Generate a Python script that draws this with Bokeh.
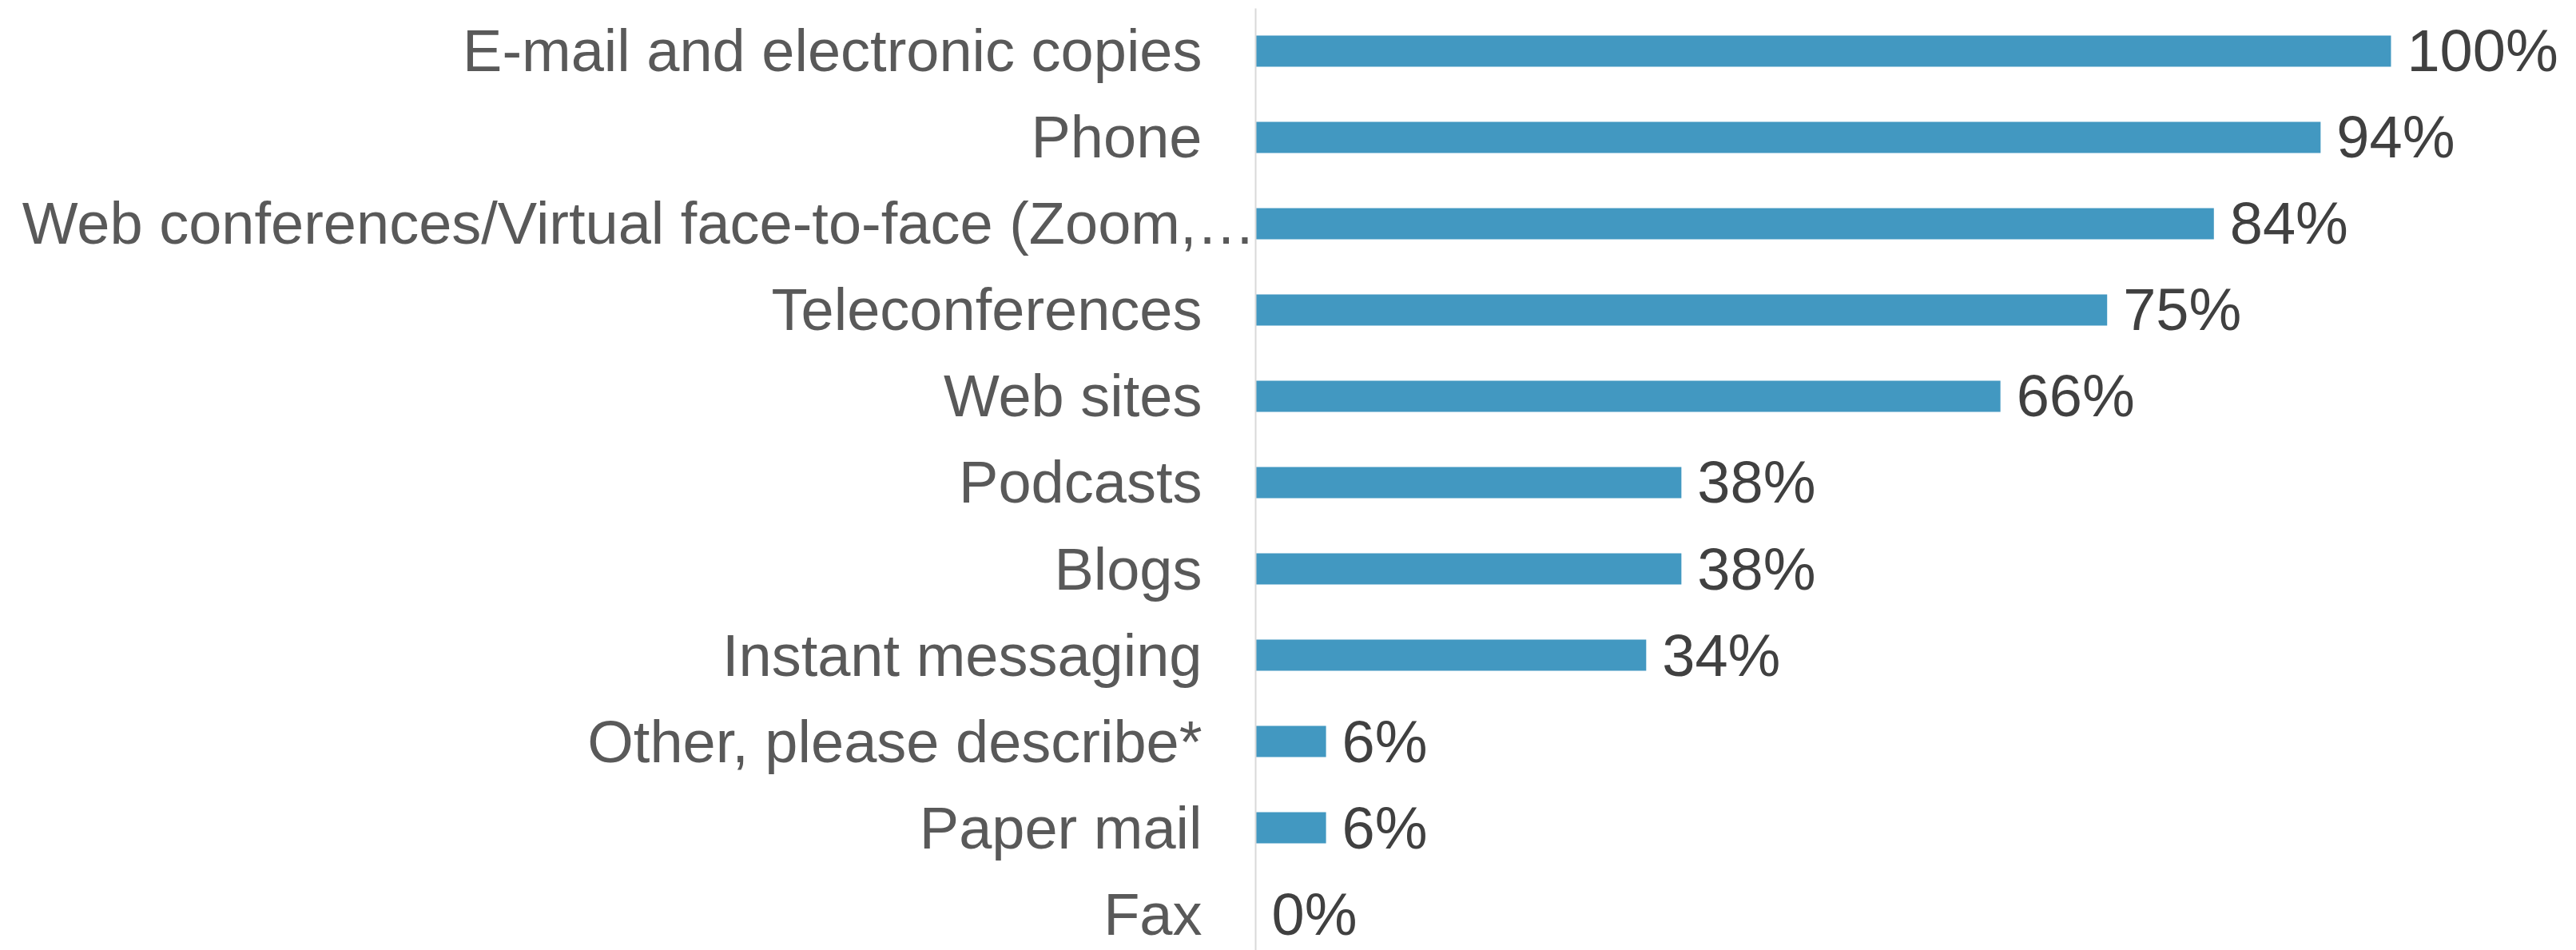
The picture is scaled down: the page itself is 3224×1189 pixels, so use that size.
from bokeh.plotting import figure
from bokeh.models import Range1d, ColumnDataSource, FixedTicker
from bokeh.core.properties import value
from bokeh.embed import file_html
from bokeh.resources import INLINE

categories = [
    "E-mail and electronic copies",
    "Phone",
    "Web conferences/Virtual face-to-face (Zoom,…",
    "Teleconferences",
    "Web sites",
    "Podcasts",
    "Blogs",
    "Instant messaging",
    "Other, please describe*",
    "Paper mail",
    "Fax",
]
values = [100, 93.8, 84.4, 75, 65.6, 37.5, 37.5, 34.4, 6.2, 6.2, 0]
value_labels = ["100%", "94%", "84%", "75%", "66%", "38%", "38%", "34%", "6%", "6%", "0%"]

FONT = "Liberation Sans"
FS = "74px"

n = len(categories)
ypos = [n - 1 - i for i in range(n)]  # first category at the top
src = ColumnDataSource(dict(y=ypos, cat=categories, val=values, lab=value_labels))

p = figure(
    width=3224, height=1189,
    y_range=Range1d(-0.421, n - 0.505),
    x_range=Range1d(0, 116.33),
    output_backend="svg", toolbar_location=None,
    min_border_left=1571, min_border_right=0, min_border_top=10, min_border_bottom=0,
)
p.hbar(y="y", right="val", left=0, height=0.36, source=src,
       fill_color="#4298c1", line_color=None)
p.text(x="val", y="y", text="lab", source=src, x_offset=20,
       text_baseline="middle", text_align="left",
       text_font=value(FONT), text_font_size=FS, text_color="#404040")

# the long (truncated) category label overflows the usual label gap and
# ends right at the axis line, so it is drawn separately
long_i = 2
overrides = {ypos[i]: categories[i] for i in range(n)}
overrides[ypos[long_i]] = ""
p.text(x=[0], y=[ypos[long_i]], text=[categories[long_i]], level="overlay",
       text_baseline="middle", text_align="right",
       text_font=value(FONT), text_font_size=FS, text_color="#595959")

p.xaxis.visible = False
p.xgrid.visible = False
p.ygrid.visible = False
p.outline_line_color = None
ax = p.yaxis[0]
ax.ticker = FixedTicker(ticks=ypos, minor_ticks=[])
ax.major_label_overrides = overrides
ax.axis_line_color = "#d9d9d9"
ax.axis_line_width = 2
ax.major_tick_line_color = None
ax.minor_tick_line_color = None
ax.major_label_text_font = FONT
ax.major_label_text_font_size = FS
ax.major_label_text_color = "#595959"
ax.major_label_standoff = 61

open("out.html", "w").write(file_html(p, INLINE))
